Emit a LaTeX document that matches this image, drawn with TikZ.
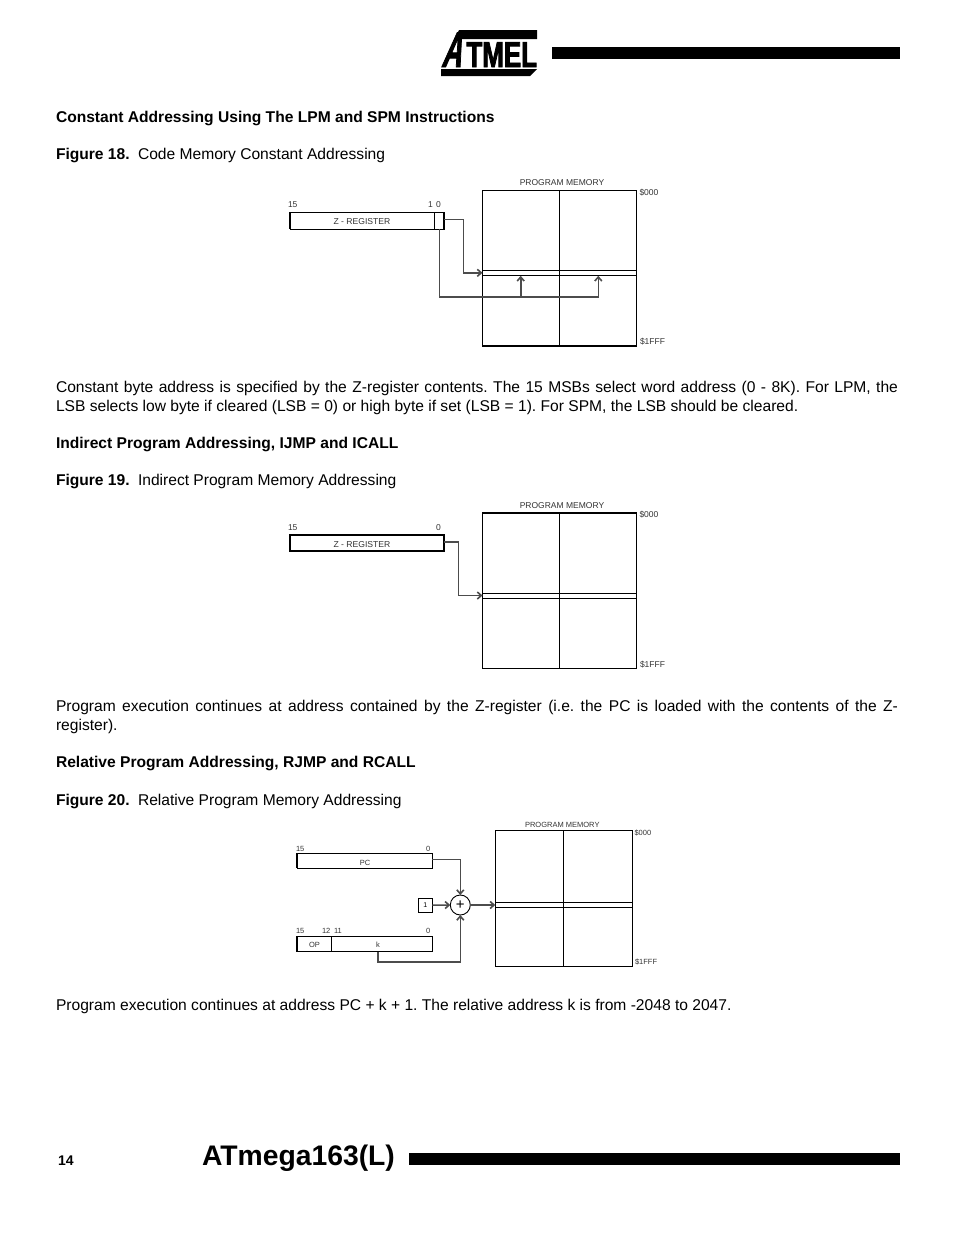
\documentclass[tikz,border=0pt]{standalone}
\usepackage{fontspec}
\setmainfont{Liberation Sans}
\newfontfamily\logofont[FakeStretch=0.72,FakeBold=2.2]{Liberation Sans Bold}
\newfontfamily\logoslant[FakeStretch=0.55,FakeBold=1.5,FakeSlant=0.25]{Liberation Sans Bold}
\usetikzlibrary{arrows.meta, positioning}
\tikzset{
  bodytext/.style={anchor=north west,inner sep=0pt,text width=842pt,align=justify,font=\fontsize{15.6}{19}\selectfont\frenchspacing},
  headtext/.style={anchor=base west,inner sep=0pt,font=\fontsize{15.6}{19}\selectfont\bfseries},
  captext/.style={anchor=base west,inner sep=0pt,font=\fontsize{15.6}{19}\selectfont},
  tinylab/.style={anchor=base west,inner sep=0pt,font=\fontsize{8.5}{9}\selectfont,text=black!80},
  memlab/.style={anchor=base,inner sep=0pt,font=\fontsize{8.5}{9}\selectfont,text=black!80},
  reglab/.style={inner sep=0pt,font=\fontsize{8.6}{9}\selectfont,text=black!80},
  smalllab/.style={font=\fontsize{7.5}{8}\selectfont},
  regbox/.style={draw,line width=0.9pt,minimum height=#1,inner sep=0pt},
  feed/.style={draw=black!70,line width=1.6pt,-{Straight Barb[length=4pt,width=7pt]}},
  memgrid/.style={line width=0.9pt},
  thickedge/.style={line width=1.8pt},
  logoband/.style={fill=black,draw=none},
}
\begin{document}
\begin{tikzpicture}[x=1pt,y=-1pt,inner sep=0pt,outer sep=0pt]
\useasboundingbox[fill=white] (0,0) rectangle (954,1235);
% header
\fill[logoband] (552,47) rectangle (900,59);
\fill[logoband] (459,30) -- (537,30) -- (537,39) -- (455,39) -- cycle;
\fill[logoband] (441,69) -- (537,69) -- (530,76) -- (441,76) -- cycle;
\node[anchor=base west,font=\fontsize{50}{50}\selectfont\logoslant] (logoA) at (441,67) {A};
\node[anchor=base east,font=\fontsize{36}{36}\selectfont\logofont] (logotext) at (537,67) {TMEL};
% section 1
\node[headtext] (headA) at (56,122) {Constant Addressing Using The LPM and SPM Instructions};
\node[headtext] (figA) at (56,159) {Figure 18.};
\node[captext] (capA) at (138,159) {Code Memory Constant Addressing};
% figure 18
\node[memlab] (memA) at (562,185.5) {PROGRAM MEMORY};
\draw[memgrid] (482.5,190) rectangle (636.7,345.7);
\draw[memgrid] (559.3,190) -- (559.3,345.7);
\draw[memgrid] (482.5,270.3) -- (636.7,270.3) (482.5,275.3) -- (636.7,275.3);
\draw[thickedge] (482,345.7) -- (637,345.7);
\node[tinylab] (topA) at (639.5,195) {\$000};
\node[tinylab] (endA) at (640,344) {\$1FFF};
\node[tinylab] (msbA) at (288,207) {15};
\node[tinylab] (bitOneA) at (428,207) {1};
\node[tinylab] (bitZeroA) at (436,207) {0};
\node[regbox=17pt,minimum width=154.3pt,anchor=north west] (regA) at (290,212.3) {};
\node[reglab] (nameA) at (362,221.5) {Z - REGISTER};
\draw[thickedge] (290,212.3) -- (290,229.3) (444.3,212.3) -- (444.3,229.3);
\draw[line width=0.7pt] (434.7,212.3) -- (434.7,229.3);
\coordinate (lsbA) at (439.3,229.3);
\coordinate (slotA) at (482.5,272.8);
\coordinate (lowA) at (520.7,275.8);
\coordinate (highA) at (598.3,275.8);
\draw[feed] (regA.east |- 0,219.5) -- (463.3,219.5) |- (slotA);
\draw[feed] (lsbA) |- (598.3,297) -- (highA);
\draw[feed] (520.7,297) -- (lowA);
% paragraph 1
\node[bodytext] (paraA) at (56,381) {\makebox[842pt][s]{Constant byte address is specified by the Z-register contents. The 15 MSBs select word address (0 - 8K). For LPM, the}\\LSB selects low byte if cleared (LSB = 0) or high byte if set (LSB = 1). For SPM, the LSB should be cleared.};
% section 2
\node[headtext] (headB) at (56,448) {Indirect Program Addressing, IJMP and ICALL};
\node[headtext] (figB) at (56,485) {Figure 19.};
\node[captext] (capB) at (138,485) {Indirect Program Memory Addressing};
% figure 19
\node[memlab] (memB) at (562,508) {PROGRAM MEMORY};
\draw[memgrid] (482.5,512.7) rectangle (636.7,668);
\draw[memgrid] (559.3,512.7) -- (559.3,668);
\draw[memgrid] (482.5,593.3) -- (636.7,593.3) (482.5,598.3) -- (636.7,598.3);
\draw[thickedge] (482,512.7) -- (637,512.7);
\node[tinylab] (topB) at (639.5,517.5) {\$000};
\node[tinylab] (endB) at (640,667) {\$1FFF};
\node[tinylab] (msbB) at (288,530) {15};
\node[tinylab] (bitZeroB) at (436,530) {0};
\node[regbox=16.3pt,minimum width=154.3pt,anchor=north west,thickedge] (regB) at (290,535) {};
\node[reglab] (nameB) at (362,544.5) {Z - REGISTER};
\coordinate (slotB) at (482.5,595.5);
\draw[feed] (regB.east |- 0,542) -- (458.3,542) |- (slotB);
% paragraph 2
\node[bodytext] (paraB) at (56,700) {\makebox[842pt][s]{Program execution continues at address contained by the Z-register (i.e. the PC is loaded with the contents of the Z-}\\register).};
% section 3
\node[headtext] (headC) at (56,767) {Relative Program Addressing, RJMP and RCALL};
\node[headtext] (figC) at (56,805) {Figure 20.};
\node[captext] (capC) at (138,805) {Relative Program Memory Addressing};
% figure 20
\node[memlab,smalllab] (memC) at (562.3,827.5) {PROGRAM MEMORY};
\draw[memgrid] (495.3,830.3) rectangle (632.7,966.3);
\draw[memgrid] (563.3,830.3) -- (563.3,966.3);
\draw[memgrid] (495.3,902.3) -- (632.7,902.3) (495.3,907.3) -- (632.7,907.3);
\node[tinylab,smalllab] (topC) at (634.5,835) {\$000};
\node[tinylab,smalllab] (endC) at (635,964) {\$1FFF};
\node[tinylab,smalllab] (msbPC) at (296,851) {15};
\node[tinylab,smalllab] (lsbPC) at (426,851) {0};
\node[tinylab,smalllab] (msbOP) at (296,933) {15};
\node[tinylab,smalllab] (lsbOP) at (322,933) {12};
\node[tinylab,smalllab] (msbK) at (334,933) {11};
\node[tinylab,smalllab] (lsbK) at (426,933) {0};
\node[regbox=15pt,minimum width=135pt,anchor=north west] (regPC) at (297.3,853.3) {};
\node[reglab,smalllab] (namePC) at (365,862.5) {PC};
\node[regbox=15.4pt,minimum width=135pt,anchor=north west] (regOP) at (297.3,936.3) {};
\node[reglab,smalllab] (nameOP) at (314.5,944.5) {OP};
\node[reglab,smalllab] (nameK) at (378,944.5) {k};
\draw[thickedge] (297.3,853.3) -- (297.3,868.3) (297.3,936.3) -- (297.3,951.7);
\draw[line width=0.7pt] (331.7,936.3) -- (331.7,951.7);
\node[draw,line width=0.7pt,minimum width=14pt,minimum height=14.3pt,font=\fontsize{7}{8}\selectfont] (oneBox) at (425.3,905.1) {1};
\node[circle,draw,line width=0.9pt,minimum size=20pt,font=\fontsize{15}{15}\selectfont] (adder) at (460.3,905) {+};
\coordinate (slotC) at (495.3,905);
\coordinate (kOut) at (377.7,951.7);
\draw[feed] (regPC.east |- 0,859.5) -| (adder.north);
\draw[feed] (oneBox) -- (adder);
\draw[feed] (adder) -- (slotC);
\draw[feed] (kOut) |- (460.3,961.7) -- (adder.south);
% paragraph 3
\node[bodytext] (paraC) at (56,999) {Program execution continues at address PC + k + 1. The relative address k is from -2048 to 2047.};
% footer
\node[anchor=base west,font=\fontsize{14}{15}\selectfont\bfseries] (pageNum) at (58,1165) {14};
\node[anchor=base west,font=\fontsize{28.3}{30}\selectfont\bfseries] (chipName) at (202,1165) {ATmega163(L)};
\fill[logoband] (409,1153) rectangle (900,1165);
\end{tikzpicture}
\end{document}
